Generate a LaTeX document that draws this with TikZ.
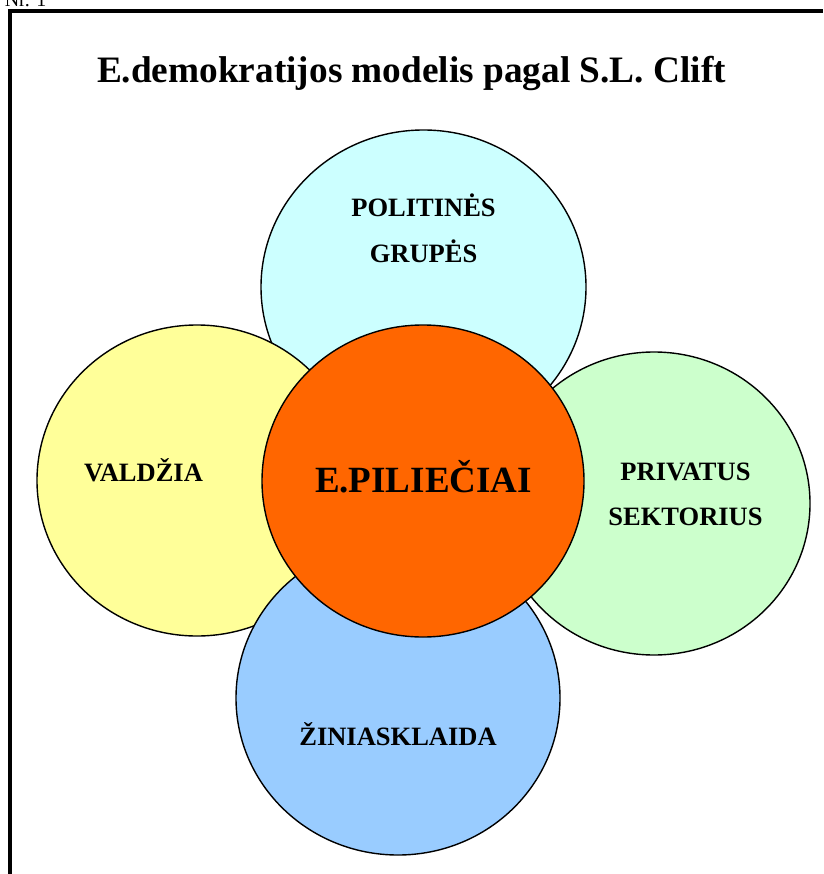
\documentclass[tikz,border=0pt]{standalone}
\usepackage{fontspec}
\setmainfont{Liberation Serif}
\usepackage{tikz}
\usetikzlibrary{shapes.geometric}
\definecolor{cyanfill}{HTML}{CCFFFF}
\definecolor{yellowfill}{HTML}{FFFF99}
\definecolor{greenfill}{HTML}{CCFFCC}
\definecolor{bluefill}{HTML}{99CCFF}
\definecolor{orangefill}{HTML}{FF6600}
\begin{document}
\begin{tikzpicture}[x=1pt,y=-1pt,
	krug/.style={ellipse,draw=black,line width=1.4pt,inner sep=0pt},
	lbl/.style={font=\bfseries\fontsize{26.5}{45}\selectfont,align=center,anchor=base}]
	\useasboundingbox (0,0) rectangle (823,874);
	%FRAME
	\node [anchor=base east,font=\fontsize{20}{24}\selectfont] (nr) at (50,7) {Nr. 1};
	\coordinate (FB) at (10,874);
	\coordinate (FL) at (10,11);
	\coordinate (FR) at (823,11);
	\draw[line width=3.5pt] (FB) -- (FL) -- (FR);
	%TITLE
	\node [anchor=base,font=\bfseries\fontsize{37.3}{44}\selectfont] (title) at (411.5,83) {E.demokratijos modelis pagal S.L. Clift};
	%CIRCLES
	\node [krug,fill=cyanfill,minimum width=325,minimum height=314] (politines) at (423.5,287) {};
	\node [krug,fill=yellowfill,minimum width=320,minimum height=311] (valdzia) at (197,480.5) {};
	\node [krug,fill=bluefill,minimum width=324,minimum height=314] (ziniasklaida) at (398,698) {};
	\node [krug,fill=greenfill,minimum width=312,minimum height=303] (privatus) at (654,503.5) {};
	\node [krug,fill=orangefill,minimum width=322,minimum height=312] (pilieciai) at (423,481) {};
	%LABELS (base = last line)
	\node [lbl] (Lpolitines) at (423.5,262) {POLITINĖS\\GRUPĖS};
	\node [lbl] (Lvaldzia) at (143.5,481) {VALDŽIA};
	\node [lbl] (Lprivatus) at (685.5,525) {PRIVATUS\\SEKTORIUS};
	\node [lbl] (Lziniasklaida) at (398,745) {ŽINIASKLAIDA};
	\node [lbl,font=\bfseries\fontsize{37}{44}\selectfont] (Lpilieciai) at (423.5,492) {E.PILIEČIAI};
\end{tikzpicture}
\end{document}
